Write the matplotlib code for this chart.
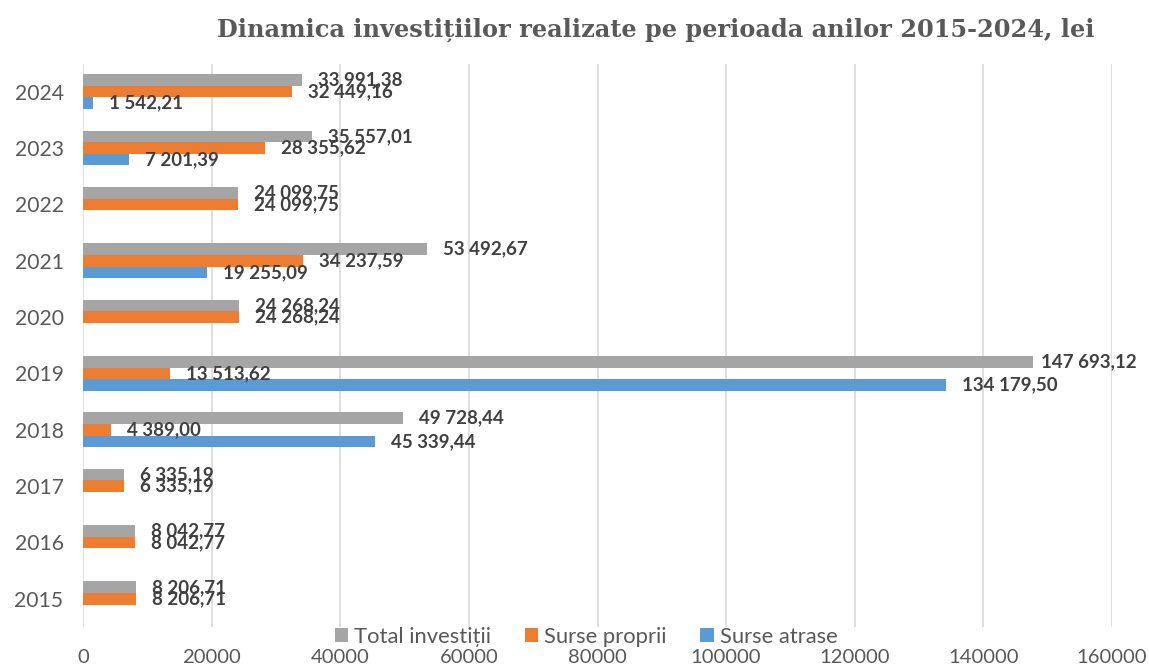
import matplotlib
matplotlib.use("Agg")
import matplotlib.pyplot as plt
from matplotlib.patches import Patch
import numpy as np

years = ["2015", "2016", "2017", "2018", "2019", "2020", "2021", "2022", "2023", "2024"]
total = [8206.71, 8042.77, 6335.19, 49728.44, 147693.12, 24268.24, 53492.67, 24099.75, 35557.01, 33991.38]
proprii = [8206.71, 8042.77, 6335.19, 4389.00, 13513.62, 24268.24, 34237.59, 24099.75, 28355.62, 32449.16]
atrase = [0, 0, 0, 45339.44, 134179.50, 0, 19255.09, 0, 7201.39, 1542.21]
series_names = ["Total investiții", "Surse proprii", "Surse atrase"]
colors = ["#A5A5A5", "#ED7D31", "#5B9BD5"]
xticks = [0, 20000, 40000, 60000, 80000, 100000, 120000, 140000, 160000]
title = "Dinamica investițiilor realizate pe perioada anilor 2015-2024, lei"


def fmt(v):
    s = f"{v:,.2f}"
    s = s.replace(",", " ").replace(".", ",")
    return s


W, H = 1149, 666
fig = plt.figure(figsize=(W / 100, H / 100), dpi=100)
ax = fig.add_axes([83 / W, 1 - 627 / H, (1112 - 83) / W, (627 - 63.5) / H])

y = np.arange(len(years))
bh = 0.205
offsets = [bh, 0, -bh]
data = [total, proprii, atrase]
labels = []
for vals, off, col in zip(data, offsets, colors):
    ax.barh(y + off, vals, height=bh, color=col, zorder=3)
    for yi, v in zip(y, vals):
        if v > 0:
            a = ax.annotate(fmt(v), (v, yi + off), xytext=(11.5, 0), textcoords="offset points",
                            ha="left", va="center", fontsize=13.5, fontweight="bold",
                            color="#404040", family="Lato", zorder=4)
            labels.append(a)

ax.set_xlim(0, 160000)
ax.set_ylim(-0.5, 9.5)
ax.set_yticks(y)
ax.set_yticklabels(years, fontsize=15.2, color="#595959", family="Lato")
ax.set_xticks(xticks)
ax.set_xticklabels([str(t) for t in xticks], fontsize=14.6, color="#595959", family="Lato")
ax.tick_params(axis="both", length=0)
ax.tick_params(axis="x", pad=16)
ax.tick_params(axis="y", pad=14)
ax.grid(axis="x", color="#D9D9D9", linewidth=1.2, zorder=0)
for s in ax.spines.values():
    s.set_visible(False)

handles = [Patch(facecolor=c, label=n) for c, n in zip(colors, series_names)]
leg = fig.legend(handles=handles, loc="center", bbox_to_anchor=(586 / W, 1 - 637 / H), ncol=3,
                 frameon=False, prop={"family": "Lato", "size": 15.8}, handlelength=0.6,
                 handleheight=0.6, handletextpad=0.27, columnspacing=1.55)
for t in leg.get_texts():
    t.set_color("#595959")

fig.text(656 / W, 1 - 30 / H, title, ha="center", va="center", fontsize=17.3,
         fontweight="bold", color="#595959", family="DejaVu Serif")

# keep labels inside the chart area (as the original does)
fig.canvas.draw()
r = fig.canvas.get_renderer()
for a in labels:
    bb = a.get_window_extent(r)
    if bb.x1 > W - 12:
        shift_px = bb.x1 - (W - 12)
        ox, oy = a.xyann
        a.xyann = (ox - shift_px * 72 / 100, oy)

fig.savefig("out.png", dpi=100)
